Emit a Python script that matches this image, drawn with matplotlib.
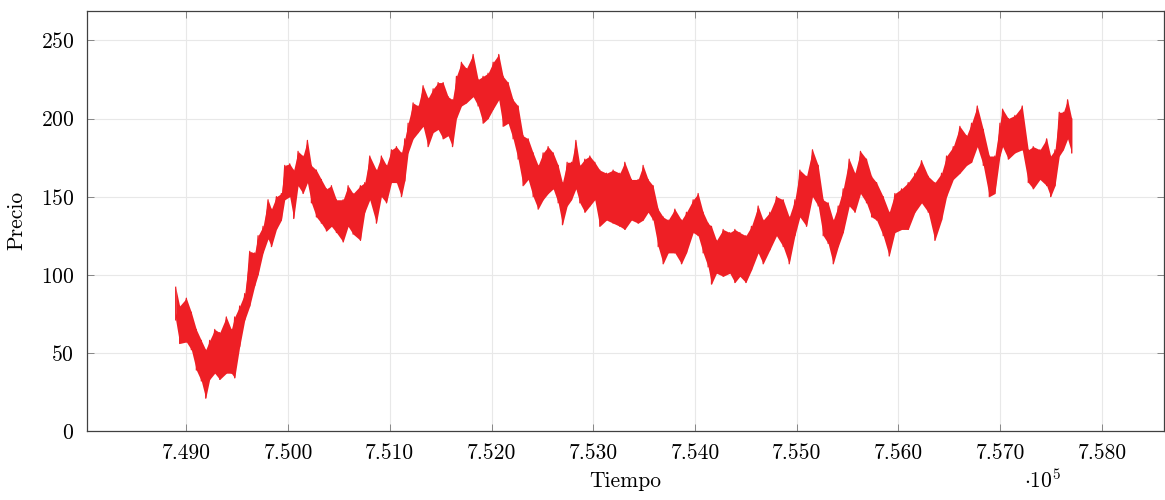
import numpy as np
import matplotlib
matplotlib.use("Agg")
import matplotlib.pyplot as plt
from matplotlib.ticker import FuncFormatter

plt.rcParams['font.family'] = 'cmr10'
plt.rcParams['mathtext.fontset'] = 'cm'
plt.rcParams['axes.formatter.use_mathtext'] = True

# time stamps and the upper / lower reach of the price noise at each stamp
tiempo = [748895, 748934, 749000, 749049, 749098, 749147, 749190, 749229, 749279, 749328,
          749393, 749442, 749475, 749524, 749574, 749623, 749672, 749705, 749754, 749803,
          749836, 749885, 749934, 749967, 750016, 750055, 750098, 750147, 750190, 750229,
          750278, 750327, 750377, 750426, 750475, 750541, 750590, 750639, 750711, 750754,
          750803, 750868, 750917, 750967, 751016, 751065, 751114, 751147, 751180, 751229,
          751278, 751327, 751376, 751426, 751475, 751524, 751573, 751616, 751655, 751704,
          751753, 751819, 751868, 751917, 751966, 752016, 752071, 752114, 752163, 752212,
          752261, 752310, 752360, 752409, 752458, 752507, 752556, 752606, 752655, 752697,
          752743, 752786, 752829, 752868, 752917, 752966, 753015,
          753064, 753130, 753195, 753261, 753310, 753375, 753441, 753490, 753539, 753588,
          753638, 753687, 753736, 753802, 753867, 753916, 753982, 754031, 754080, 754129,
          754162, 754211, 754277, 754342, 754392, 754441, 754500, 754555, 754621, 754670,
          754736, 754801, 754867, 754926, 754982, 755031, 755096, 755155, 755211, 755260,
          755309, 755359, 755408, 755457, 755516, 755572, 755627, 755686, 755736, 755785,
          755850, 755909, 755965, 756031, 756096, 756162, 756227, 756293, 756358, 756424,
          756473, 756539, 756604, 756670, 756719, 756775, 756834, 756893, 756948, 756998,
          757024, 757080, 757145, 757217, 757276,
          757325, 757391, 757457, 757496, 757539, 757581, 757621, 757663, 757703]

precio_alto = [92, 80, 85, 76, 65, 58, 52, 58, 65, 63,
               73, 65, 73, 80, 88, 115, 114, 125, 131, 148,
               142, 150, 152, 170, 171, 167, 179, 176, 186, 170,
               167, 161, 155, 157, 148, 148, 157, 152, 157, 159,
               176, 167, 176, 170, 180, 182, 178, 187, 197, 210,
               208, 221, 213, 219, 223, 223, 214, 212, 227, 236,
               232, 241, 225, 227, 229, 236, 241, 227, 223, 212,
               208, 189, 187, 178, 170, 178, 182, 178, 170, 159,
               172, 172, 186, 170, 174, 176, 172,
               167, 165, 167, 165, 172, 161, 161, 170, 161, 157,
               142, 137, 135, 142, 135, 140, 148, 152, 140, 133,
               131, 122, 129, 127, 129, 127, 125, 131, 144, 135,
               140, 150, 148, 137, 148, 167, 163, 180, 170, 148,
               146, 135, 144, 155, 174, 165, 179, 174, 163, 159,
               150, 140, 152, 155, 159, 165, 173, 163, 159, 165,
               176, 182, 195, 189, 197, 208, 193, 176, 176, 197,
               206, 200, 202, 208, 180,
               182, 180, 187, 176, 180, 204, 204, 212, 200]

precio_bajo = [71, 56, 57, 52, 39, 32, 21, 33, 37, 33,
               37, 37, 34, 54, 71, 80, 93, 100, 114, 123,
               118, 129, 135, 148, 150, 136, 157, 152, 159, 146,
               137, 133, 128, 131, 127, 121, 131, 126, 122, 140,
               148, 133, 150, 146, 159, 159, 150, 160, 178, 187,
               191, 195, 182, 191, 193, 187, 189, 182, 200, 208,
               210, 214, 208, 197, 200, 206, 212, 195, 197, 187,
               174, 157, 161, 150, 142, 148, 152, 155, 146, 132,
               144, 148, 155, 146, 140, 144, 148,
               131, 135, 133, 131, 129, 135, 133, 135, 140, 135,
               118, 107, 114, 114, 107, 114, 127, 125, 114, 105,
               94, 101, 99, 101, 95, 99, 95, 103, 114, 107,
               116, 125, 118, 107, 125, 137, 131, 150, 144, 125,
               120, 107, 118, 127, 144, 140, 152, 146, 137, 135,
               125, 112, 127, 129, 129, 140, 146, 140, 122, 135,
               150, 161, 165, 170, 172, 182, 170, 150, 152, 176,
               182, 174, 178, 180, 159,
               155, 161, 157, 150, 157, 176, 180, 187, 178]

x_ticks = np.arange(749000, 758001, 1000)
y_ticks = [0, 50, 100, 150, 200, 250]

rojo = '#ee1f25'

# zig-zag through the high and low reading of every stamp
t = np.repeat(tiempo, 2)
p = np.column_stack([precio_alto, precio_bajo]).ravel()

fig = plt.figure(figsize=(11.65, 5), dpi=100)
ax = fig.add_axes([0.0744, 0.138, 0.9247, 0.8406])
ax.fill_between(tiempo, precio_bajo, precio_alto, color=rojo, lw=0)
ax.plot(t, p, color=rojo, lw=0.9)

ax.set_xlim(748020, 758610)
ax.set_ylim(0, 269)
ax.set_xticks(x_ticks)
ax.set_yticks(y_ticks)
ax.xaxis.set_major_formatter(FuncFormatter(lambda v, pos: '%.3f' % (v / 1e5)))
ax.grid(True, color='#e8e8e8', lw=0.8)
ax.set_axisbelow(True)
ax.tick_params(direction='in', length=5, width=0.6, color='#777777',
               top=True, right=True, labelsize=15.5, pad=9)
for s in ax.spines.values():
    s.set_color('#404040')
    s.set_linewidth(0.9)

ax.set_xlabel('Tiempo', fontsize=15.5, labelpad=6)
ax.set_ylabel('Precio', fontsize=15.5, labelpad=10)
fig.text(0.895, 0.015, r'$\cdot 10^5$', fontsize=15.5, ha='center', va='bottom')

fig.savefig('out.png', dpi=100)
